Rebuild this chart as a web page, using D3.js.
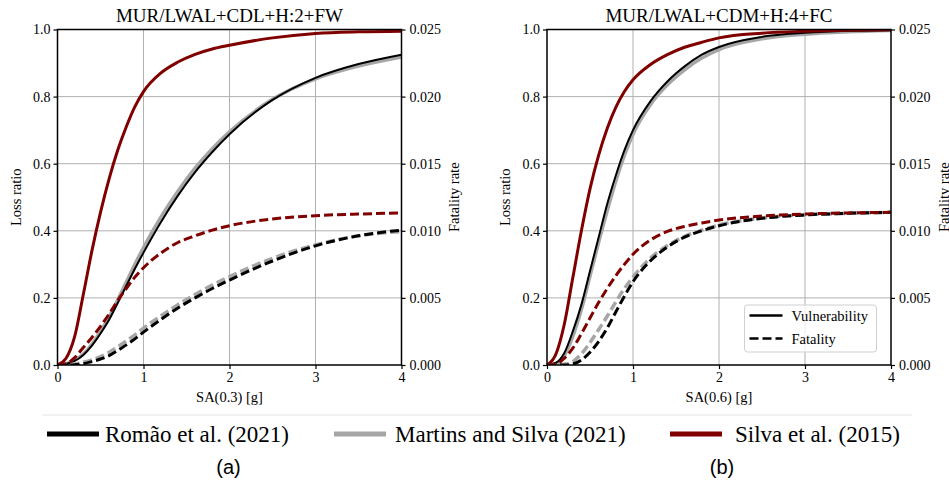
<!DOCTYPE html>
<html>
<head>
<meta charset="utf-8">
<script src="https://cdn.jsdelivr.net/npm/d3@7"></script>
<style>
  body { margin: 0; background: #fff; }
  svg { display: block; }
  text { font-family: "Liberation Serif", "Times New Roman", serif; fill: #000; }
</style>
</head>
<body>
<div id="chart"></div>
<script>
// spectral acceleration values used for every curve
var saGrid = [0, 0.1, 0.2, 0.3, 0.4, 0.5, 0.6, 0.7, 0.8, 0.9, 1.0, 1.2, 1.4, 1.6, 1.8, 2.0, 2.5, 3.0, 3.5, 4.0];

var panelTitles = ["MUR/LWAL+CDL+H:2+FW", "MUR/LWAL+CDM+H:4+FC"];
var xLabels = ["SA(0.3) [g]", "SA(0.6) [g]"];
var panelTags = ["(a)", "(b)"];
var xTicks = [0, 1, 2, 3, 4];
var lossTicks = [0, 0.2, 0.4, 0.6, 0.8, 1.0];
var fatalityTicks = [0, 0.005, 0.010, 0.015, 0.020, 0.025];
var sources = ["Romão et al. (2021)", "Martins and Silva (2021)", "Silva et al. (2015)"];

// panel (a) - loss ratio
var romaoLossA   = [0, 0.003, 0.012, 0.03, 0.058, 0.094, 0.135, 0.185, 0.236, 0.287, 0.335, 0.425, 0.505, 0.575, 0.635, 0.688, 0.79, 0.856, 0.897, 0.925];
var martinsLossA = [0, 0.004, 0.015, 0.033, 0.062, 0.1, 0.143, 0.194, 0.247, 0.3, 0.35, 0.44, 0.518, 0.587, 0.645, 0.695, 0.792, 0.853, 0.891, 0.918];
var silvaLossA   = [0, 0.02, 0.085, 0.21, 0.34, 0.455, 0.555, 0.64, 0.71, 0.77, 0.815, 0.87, 0.903, 0.926, 0.942, 0.953, 0.975, 0.988, 0.993, 0.995];
// panel (a) - fatality rate
var romaoFatA   = [0, 0, 0.000025, 0.0001, 0.00025, 0.00045, 0.0007, 0.00108, 0.0015, 0.00195, 0.00245, 0.00338, 0.00425, 0.005, 0.0057, 0.00633, 0.00775, 0.00888, 0.00963, 0.01005];
var martinsFatA = [0, 0.00001, 0.000075, 0.0002, 0.000375, 0.000625, 0.00095, 0.00135, 0.0018, 0.00225, 0.00275, 0.00365, 0.0045, 0.00525, 0.00595, 0.00658, 0.00795, 0.00895, 0.00963, 0.00995];
var silvaFatA   = [0, 0.0001, 0.00055, 0.0013, 0.00205, 0.00288, 0.0038, 0.0048, 0.0057, 0.00655, 0.00725, 0.00833, 0.00913, 0.00963, 0.01005, 0.01038, 0.01088, 0.01113, 0.01125, 0.01133];

// panel (b) - loss ratio
var romaoLossB   = [0, 0.006, 0.035, 0.1, 0.18, 0.28, 0.38, 0.48, 0.565, 0.64, 0.7, 0.785, 0.845, 0.89, 0.925, 0.948, 0.978, 0.99, 0.996, 0.998];
var martinsLossB = [0, 0.003, 0.027, 0.085, 0.165, 0.265, 0.365, 0.46, 0.548, 0.625, 0.688, 0.775, 0.835, 0.88, 0.915, 0.94, 0.972, 0.986, 0.993, 0.997];
var silvaLossB   = [0, 0.03, 0.12, 0.26, 0.4, 0.525, 0.625, 0.705, 0.768, 0.815, 0.85, 0.895, 0.925, 0.947, 0.962, 0.975, 0.989, 0.995, 0.998, 0.999];
// panel (b) - fatality rate
var romaoFatB   = [0, 0, 0, 0.000075, 0.000375, 0.00095, 0.00175, 0.00275, 0.00395, 0.00513, 0.0062, 0.00775, 0.0088, 0.00953, 0.01, 0.01038, 0.01093, 0.01118, 0.0113, 0.01138];
var martinsFatB = [0, 0, 0.00005, 0.00025, 0.000825, 0.00168, 0.00263, 0.00363, 0.0047, 0.0057, 0.00655, 0.00795, 0.0089, 0.00958, 0.01005, 0.01043, 0.01095, 0.0112, 0.0113, 0.01138];
var silvaFatB   = [0, 0.00005, 0.0005, 0.00125, 0.00233, 0.0035, 0.00465, 0.0057, 0.00665, 0.0075, 0.00825, 0.0093, 0.00995, 0.01033, 0.01058, 0.0108, 0.0111, 0.01125, 0.01133, 0.01138];

var svgWidth = 949;
var svgHeight = 482;
var plotWidth = 344;
var plotHeight = 335.5;
var panelLeft = [57.5, 547];
var panelTop = 29.5;

var colors = ["#000000", "#a6a6a6", "#800000"];
var lineWidths = [2, 3.5, 3];

var svg = d3.select("#chart")
  .append("svg")
  .attr("width", svgWidth)
  .attr("height", svgHeight);

var xScale = d3.scaleLinear().domain([0, 4]).range([0, plotWidth]);
var yLoss = d3.scaleLinear().domain([0, 1]).range([plotHeight, 0]);
var yFat = d3.scaleLinear().domain([0, 0.025]).range([plotHeight, 0]);

var panels = [
  { loss: [romaoLossA, martinsLossA, silvaLossA], fat: [romaoFatA, martinsFatA, silvaFatA] },
  { loss: [romaoLossB, martinsLossB, silvaLossB], fat: [romaoFatB, martinsFatB, silvaFatB] }
];

panels.forEach(function(p, i) {
  var g = svg.append("g")
    .attr("transform", `translate(${panelLeft[i]}, ${panelTop})`);

  g.append("clipPath").attr("id", "clip" + i)
    .append("rect").attr("width", plotWidth).attr("height", plotHeight);

  // grid
  g.append("g").selectAll("line")
    .data(xTicks.slice(1, -1))
    .enter().append("line")
    .attr("x1", d => xScale(d)).attr("x2", d => xScale(d))
    .attr("y1", 0).attr("y2", plotHeight)
    .attr("stroke", "#b0b0b0").attr("stroke-width", 1);
  g.append("g").selectAll("line")
    .data(lossTicks.slice(1, -1))
    .enter().append("line")
    .attr("x1", 0).attr("x2", plotWidth)
    .attr("y1", d => yLoss(d)).attr("y2", d => yLoss(d))
    .attr("stroke", "#b0b0b0").attr("stroke-width", 1);

  var curves = g.append("g").attr("clip-path", `url(#clip${i})`);

  var lossLine = d3.line()
    .x((d, k) => xScale(saGrid[k]))
    .y(d => yLoss(d))
    .curve(d3.curveMonotoneX);
  var fatLine = d3.line()
    .x((d, k) => xScale(saGrid[k]))
    .y(d => yFat(d))
    .curve(d3.curveMonotoneX);

  // martins first, romao on top, then silva
  [1, 0, 2].forEach(function(s) {
    curves.append("path")
      .attr("d", lossLine(p.loss[s]))
      .attr("fill", "none")
      .attr("stroke", colors[s])
      .attr("stroke-width", lineWidths[s]);
  });
  [1, 0, 2].forEach(function(s) {
    curves.append("path")
      .attr("d", fatLine(p.fat[s]))
      .attr("fill", "none")
      .attr("stroke", colors[s])
      .attr("stroke-width", s === 0 ? 3 : lineWidths[s])
      .attr("stroke-dasharray", "9,4");
  });

  // axes
  var leftAxis = d3.axisLeft(yLoss).tickValues(lossTicks).tickFormat(d3.format(".1f")).tickSize(4).tickPadding(3);
  var rightAxis = d3.axisRight(yFat).tickValues(fatalityTicks).tickFormat(d3.format(".3f")).tickSize(4).tickPadding(4);
  var bottomAxis = d3.axisBottom(xScale).tickValues(xTicks).tickFormat(d3.format("d")).tickSize(4).tickPadding(3);

  [g.append("g").call(leftAxis),
   g.append("g").attr("transform", `translate(${plotWidth}, 0)`).call(rightAxis),
   g.append("g").attr("transform", `translate(0, ${plotHeight})`).call(bottomAxis)
  ].forEach(function(ax) {
    ax.select(".domain").remove();
    ax.selectAll("line").attr("stroke", "#000").attr("stroke-width", 1.2);
    ax.selectAll("text").style("font-size", "14px").style("font-family", "'Liberation Serif', 'Times New Roman', serif");
  });

  // frame
  g.append("rect")
    .attr("width", plotWidth).attr("height", plotHeight)
    .attr("fill", "none").attr("stroke", "#000").attr("stroke-width", 1.5);

  g.append("text")
    .attr("x", plotWidth / 2).attr("y", -8)
    .attr("text-anchor", "middle")
    .style("font-size", "19px")
    .text(panelTitles[i]);

  g.append("text")
    .attr("x", plotWidth / 2).attr("y", plotHeight + 37)
    .attr("text-anchor", "middle")
    .style("font-size", "14.5px")
    .text(xLabels[i]);

  g.append("text")
    .attr("transform", `translate(-42, ${plotHeight / 2}) rotate(-90)`)
    .attr("text-anchor", "middle")
    .attr("dominant-baseline", "central")
    .style("font-size", "14.5px")
    .text("Loss ratio");

  g.append("text")
    .attr("transform", `translate(${plotWidth + 52.5}, ${plotHeight / 2}) rotate(-90)`)
    .attr("text-anchor", "middle")
    .attr("dominant-baseline", "central")
    .style("font-size", "14.5px")
    .text("Fatality rate");

  svg.append("text")
    .attr("x", panelLeft[i] + (i === 0 ? 171 : 175)).attr("y", 474)
    .attr("text-anchor", "middle")
    .style("font-family", "'Liberation Sans', Arial, sans-serif")
    .style("font-size", "20px")
    .text(panelTags[i]);
});

// inner legend (panel b)
var inner = svg.append("g").attr("transform", "translate(744.5, 305)");
inner.append("rect")
  .attr("width", 132).attr("height", 47).attr("rx", 3)
  .attr("fill", "#fff").attr("fill-opacity", 0.8)
  .attr("stroke", "#d0d0d0").attr("stroke-width", 1);
[["Vulnerability", null], ["Fatality", "9,4"]].forEach(function(item, k) {
  var yy = 10.5 + k * 23;
  inner.append("line")
    .attr("x1", 5).attr("x2", 38).attr("y1", yy).attr("y2", yy)
    .attr("stroke", "#000").attr("stroke-width", 2.5)
    .attr("stroke-dasharray", item[1]);
  inner.append("text")
    .attr("x", 47).attr("y", yy + 5)
    .style("font-size", "14.5px")
    .text(item[0]);
});

// bottom legend
svg.append("line")
  .attr("x1", 42).attr("x2", 912).attr("y1", 415).attr("y2", 415)
  .attr("stroke", "#ececec").attr("stroke-width", 1.5);

var legendLineX = [47, 334, 670];
var legendTextX = [105, 395, 735];
sources.forEach(function(name, k) {
  svg.append("line")
    .attr("x1", legendLineX[k]).attr("x2", legendLineX[k] + 52)
    .attr("y1", 434).attr("y2", 434)
    .attr("stroke", colors[k]).attr("stroke-width", 5);
  svg.append("text")
    .attr("x", legendTextX[k]).attr("y", 442)
    .style("font-size", "23px")
    .text(name);
});
</script>
</body>
</html>
